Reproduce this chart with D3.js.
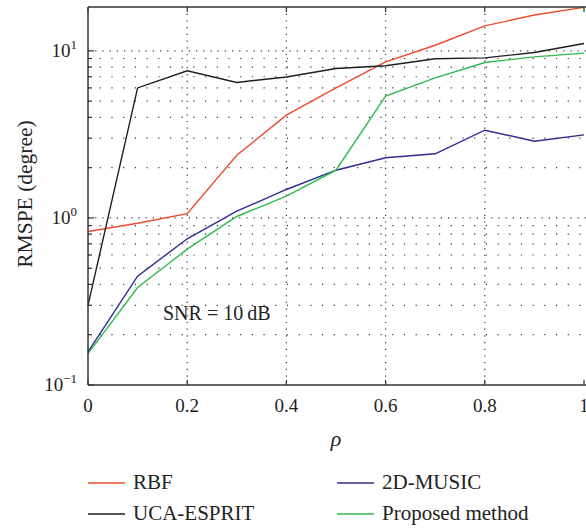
<!DOCTYPE html>
<html>
<head>
<meta charset="utf-8">
<script src="https://cdn.jsdelivr.net/npm/d3@7/dist/d3.min.js"></script>
<style>
  html, body { margin: 0; padding: 0; background: #fff; }
  svg { display: block; }
  text { font-family: "Liberation Serif", "DejaVu Serif", serif; fill: #222; }
</style>
</head>
<body>
<svg id="chart" width="586" height="529"></svg>
<script>
// Correlation coefficient values on the x axis
const rho = [0, 0.1, 0.2, 0.3, 0.4, 0.5, 0.6, 0.7, 0.8, 0.9, 1.0];

// RMSPE (degree) for each method
const rbf       = [0.83, 0.93, 1.06, 2.37, 4.12, 6.0, 8.6, 10.8, 14.1, 16.4, 18.2];
const ucaEsprit = [0.30, 6.0, 7.6, 6.47, 6.98, 7.84, 8.15, 8.96, 9.08, 9.78, 11.07];
const music2d   = [0.158, 0.448, 0.75, 1.097, 1.48, 1.93, 2.29, 2.42, 3.35, 2.88, 3.14];
const proposed  = [0.154, 0.383, 0.65, 1.02, 1.35, 1.93, 5.36, 6.89, 8.52, 9.2, 9.69];

const xTicks = [0, 0.2, 0.4, 0.6, 0.8, 1];
const xTickLabels = ["0", "0.2", "0.4", "0.6", "0.8", "1"];
const yDecades = [0.1, 1, 10];
const yExponents = ["\u22121", "0", "1"];

const seriesNames = ["RBF", "UCA-ESPRIT", "2D-MUSIC", "Proposed method"];
const seriesColors = ["#ef4a2e", "#1e1e1e", "#2f2a92", "#2fba4c"];
const seriesValues = [rbf, ucaEsprit, music2d, proposed];

const svg = d3.select("#chart");
const plotLeft = 88, plotRight = 584, plotTop = 7, plotBottom = 385;

const x = d3.scaleLinear().domain([0, 1]).range([plotLeft, plotRight]);
const y = d3.scaleLog().domain([0.1, 18.3]).range([plotBottom, plotTop]);

// minor grid values (2..9 in each decade)
const minorVals = [];
[0.1, 1, 10].forEach(d => {
  for (let k = 2; k <= 9; k++) {
    const v = d * k;
    if (v < 18.3) minorVals.push(v);
  }
});

const grid = svg.append("g");
// horizontal minor grid
grid.selectAll("line.hmin").data(minorVals).enter().append("line")
  .attr("x1", plotLeft).attr("x2", 586)
  .attr("y1", d => y(d)).attr("y2", d => y(d))
  .attr("stroke", "#333").attr("stroke-width", 1.2)
  .attr("stroke-dasharray", "1.2,10.5");
// horizontal major grid
grid.selectAll("line.hmaj").data([1, 10]).enter().append("line")
  .attr("x1", plotLeft).attr("x2", 586)
  .attr("y1", d => y(d)).attr("y2", d => y(d))
  .attr("stroke", "#333").attr("stroke-width", 1.2)
  .attr("stroke-dasharray", "1.2,6");
// vertical grid
grid.selectAll("line.v").data([0.2, 0.4, 0.6, 0.8]).enter().append("line")
  .attr("x1", d => x(d)).attr("x2", d => x(d))
  .attr("y1", plotTop).attr("y2", plotBottom)
  .attr("stroke", "#333").attr("stroke-width", 1.2)
  .attr("stroke-dasharray", "1.2,5.5");

// series lines
const line = d3.line().x((d, i) => x(rho[i])).y(d => y(d));
seriesValues.forEach((vals, i) => {
  svg.append("path").datum(vals)
    .attr("d", line)
    .attr("fill", "none")
    .attr("stroke", seriesColors[i])
    .attr("stroke-width", 1.4);
});

// axes frame
const axisColor = "#333";
svg.append("line").attr("x1", plotLeft).attr("x2", 586).attr("y1", plotTop).attr("y2", plotTop)
  .attr("stroke", axisColor).attr("stroke-width", 1.5);
svg.append("line").attr("x1", plotLeft).attr("x2", 586).attr("y1", plotBottom).attr("y2", plotBottom)
  .attr("stroke", axisColor).attr("stroke-width", 1.5);
svg.append("line").attr("x1", plotLeft).attr("x2", plotLeft).attr("y1", plotTop).attr("y2", plotBottom)
  .attr("stroke", axisColor).attr("stroke-width", 1.5);

// inward ticks on y axis
svg.append("g").selectAll("line").data(minorVals).enter().append("line")
  .attr("x1", plotLeft).attr("x2", plotLeft + 4)
  .attr("y1", d => y(d)).attr("y2", d => y(d))
  .attr("stroke", axisColor).attr("stroke-width", 1.2);
svg.append("g").selectAll("line").data(yDecades).enter().append("line")
  .attr("x1", plotLeft).attr("x2", plotLeft + 6)
  .attr("y1", d => y(d)).attr("y2", d => y(d))
  .attr("stroke", axisColor).attr("stroke-width", 1.2);

// inward ticks on x axis (bottom and top)
svg.append("g").selectAll("line").data(xTicks).enter().append("line")
  .attr("x1", d => x(d)).attr("x2", d => x(d))
  .attr("y1", plotBottom).attr("y2", plotBottom - 5)
  .attr("stroke", axisColor).attr("stroke-width", 1.2);
svg.append("g").selectAll("line").data(xTicks).enter().append("line")
  .attr("x1", d => x(d)).attr("x2", d => x(d))
  .attr("y1", plotTop).attr("y2", plotTop + 5)
  .attr("stroke", axisColor).attr("stroke-width", 1.2);

// x tick labels
svg.append("g").selectAll("text").data(xTicks).enter().append("text")
  .attr("x", d => x(d)).attr("y", 412)
  .attr("text-anchor", "middle")
  .attr("font-size", 19)
  .text((d, i) => xTickLabels[i]);

// y tick labels as powers of ten
yDecades.forEach((d, i) => {
  const t = svg.append("text")
    .attr("x", 77).attr("y", y(d) + 6)
    .attr("text-anchor", "end")
    .attr("font-size", 19);
  t.append("tspan").text("10");
  t.append("tspan").attr("font-size", 13).attr("dy", -8).text(yExponents[i]);
});

// axis titles
svg.append("text")
  .attr("transform", "translate(32,194) rotate(-90)")
  .attr("text-anchor", "middle")
  .attr("font-size", 21.5)
  .text("RMSPE (degree)");
svg.append("text")
  .attr("x", 336).attr("y", 446)
  .attr("text-anchor", "middle")
  .attr("font-size", 22)
  .attr("font-style", "italic")
  .text("\u03c1");

// annotation
svg.append("text")
  .attr("x", 163).attr("y", 320)
  .attr("font-size", 20)
  .text("SNR = 10\u2009dB");

// legend, two columns
const legendPos = [
  { lx: 88, tx: 133, y: 483 },
  { lx: 88, tx: 133, y: 514 },
  { lx: 337, tx: 382, y: 483 },
  { lx: 337, tx: 382, y: 514 }
];
seriesNames.forEach((name, i) => {
  const p = legendPos[i];
  svg.append("line")
    .attr("x1", p.lx).attr("x2", p.lx + 37)
    .attr("y1", p.y).attr("y2", p.y)
    .attr("stroke", seriesColors[i]).attr("stroke-width", 1.4);
  svg.append("text")
    .attr("x", p.tx).attr("y", p.y + 6)
    .attr("font-size", 21)
    .text(name);
});
</script>
</body>
</html>
